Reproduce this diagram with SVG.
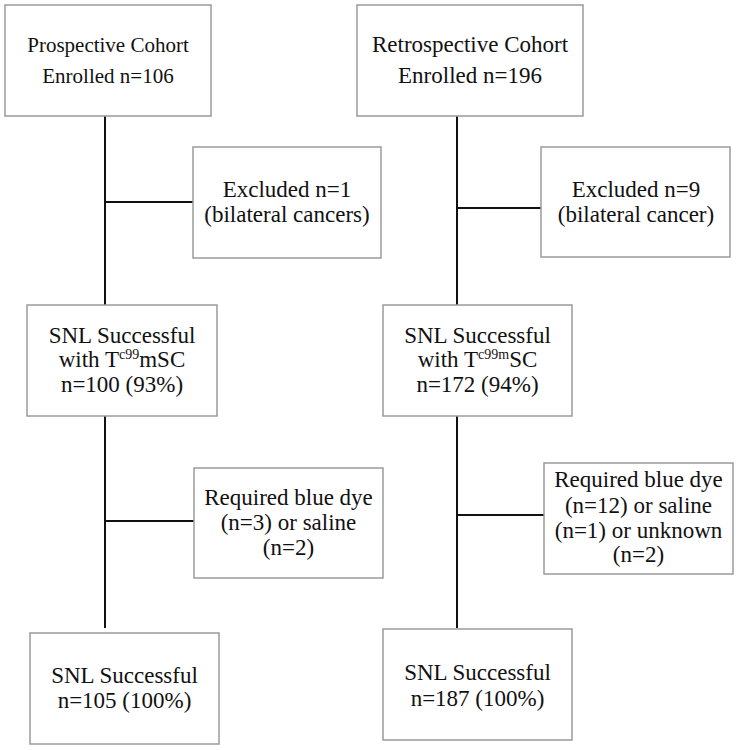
<svg xmlns="http://www.w3.org/2000/svg" width="738" height="750" viewBox="0 0 738 750">
<style>
.box{fill:#fff;stroke:#9a9a9a;stroke-width:1.5}
.t{font-family:"Liberation Serif","Times New Roman",Tinos,"DejaVu Serif",serif;font-size:23px;fill:#111;text-anchor:middle}
.s21{font-size:21px}
.sup{font-size:14px}
.c{stroke:#111;stroke-width:2;fill:none}
</style>
<rect width="738" height="750" fill="#fff"/>
<g id="connectors">
<line class="c" x1="105" y1="116" x2="105" y2="305"/>
<line class="c" x1="105" y1="202" x2="193" y2="202"/>
<line class="c" x1="105" y1="416" x2="105" y2="628"/>
<line class="c" x1="105" y1="521" x2="194" y2="521"/>
<line class="c" x1="457" y1="116" x2="457" y2="305"/>
<line class="c" x1="457" y1="208" x2="541" y2="208"/>
<line class="c" x1="457" y1="416" x2="457" y2="628"/>
<line class="c" x1="457" y1="515" x2="544" y2="515"/>
</g>
<g id="prospective" font-family="Liberation Serif, Times New Roman, serif">
<rect class="box" x="5" y="5" width="206" height="111"/>
<text class="t s21" x="108" y="52">Prospective Cohort</text>
<text class="t s21" x="108" y="83">Enrolled n=106</text>
</g>
<g id="retrospective" font-family="Liberation Serif, Times New Roman, serif">
<rect class="box" x="357" y="5" width="226" height="111"/>
<text class="t" x="470" y="52">Retrospective Cohort</text>
<text class="t" x="470" y="83">Enrolled n=196</text>
</g>
<g id="excluded-left" font-family="Liberation Serif, Times New Roman, serif">
<rect class="box" x="193" y="147" width="188" height="111"/>
<text class="t" x="287" y="197">Excluded n=1</text>
<text class="t" x="287" y="222">(bilateral cancers)</text>
</g>
<g id="excluded-right" font-family="Liberation Serif, Times New Roman, serif">
<rect class="box" x="541" y="147" width="189" height="110"/>
<text class="t" x="636" y="197">Excluded n=9</text>
<text class="t" x="636" y="222">(bilateral cancer)</text>
</g>
<g id="snl-left" font-family="Liberation Serif, Times New Roman, serif">
<rect class="box" x="27" y="305" width="190" height="111"/>
<text class="t" x="122" y="343">SNL Successful</text>
<text class="t" x="122" y="367">with T<tspan class="sup" dy="-8">c99</tspan><tspan dy="8">mSC</tspan></text>
<text class="t" x="122" y="392">n=100 (93%)</text>
</g>
<g id="snl-right" font-family="Liberation Serif, Times New Roman, serif">
<rect class="box" x="383" y="305" width="189" height="111"/>
<text class="t" x="477.5" y="343">SNL Successful</text>
<text class="t" x="477.5" y="367">with T<tspan class="sup" dy="-8">c99m</tspan><tspan dy="8">SC</tspan></text>
<text class="t" x="477.5" y="392">n=172 (94%)</text>
</g>
<g id="required-left" font-family="Liberation Serif, Times New Roman, serif">
<rect class="box" x="194" y="468" width="189" height="110"/>
<text class="t" x="288.5" y="505">Required blue dye</text>
<text class="t" x="288.5" y="530">(n=3) or saline</text>
<text class="t" x="288.5" y="555">(n=2)</text>
</g>
<g id="required-right" font-family="Liberation Serif, Times New Roman, serif">
<rect class="box" x="544" y="463" width="189" height="111"/>
<text class="t" x="638.5" y="487">Required blue dye</text>
<text class="t" x="638.5" y="513">(n=12) or saline</text>
<text class="t" x="638.5" y="538">(n=1) or unknown</text>
<text class="t" x="638.5" y="562">(n=2)</text>
</g>
<g id="final-left" font-family="Liberation Serif, Times New Roman, serif">
<rect class="box" x="30" y="633" width="189" height="111"/>
<text class="t" x="124.5" y="683">SNL Successful</text>
<text class="t" x="124.5" y="708">n=105 (100%)</text>
</g>
<g id="final-right" font-family="Liberation Serif, Times New Roman, serif">
<rect class="box" x="383" y="629" width="189" height="111"/>
<text class="t" x="477.5" y="680">SNL Successful</text>
<text class="t" x="477.5" y="706">n=187 (100%)</text>
</g>
</svg>
